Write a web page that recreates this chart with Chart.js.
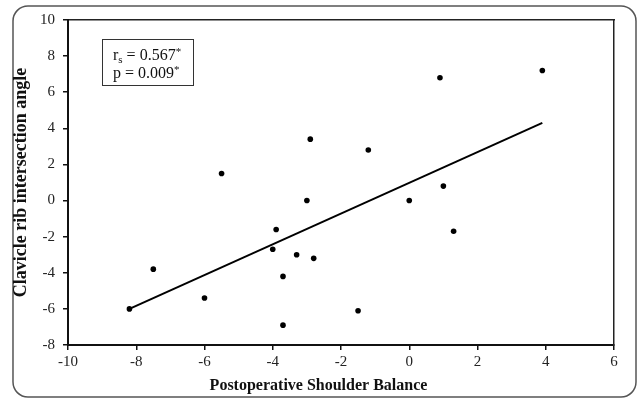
<!DOCTYPE html>
<html>
<head>
<meta charset="utf-8">
<title>Clavicle rib intersection angle vs Postoperative Shoulder Balance</title>
<script src="https://cdn.jsdelivr.net/npm/chart.js@4.4.0/dist/chart.umd.min.js"></script>
<style>
	html, body { margin: 0; padding: 0; background: #fff; }
	#wrap { width: 637px; height: 399px; }
</style>
</head>
<body>
<div id="wrap"><canvas id="scatterChart" width="637" height="399"></canvas></div>
<script>
// Data
const balanceX = [-8.2, -7.5, -6.0, -5.5, -3.9, -4.0, -3.7, -3.7, -3.3, -3.0, -2.9, -2.8, -1.5, -1.2, 0.0, 0.9, 1.0, 1.3, 3.9];
const angleY = [-6.0, -3.8, -5.4, 1.5, -1.6, -2.7, -4.2, -6.9, -3.0, 0.0, 3.4, -3.2, -6.1, 2.8, 0.0, 6.8, 0.8, -1.7, 7.2];

// Regression line end points
const trendX = [-8.2, 3.9];
const trendY = [-6.0, 4.3];

// Axis tick labels
const xTicks = [-10, -8, -6, -4, -2, 0, 2, 4, 6];
const yTicks = [-8, -6, -4, -2, 0, 2, 4, 6, 8, 10];

const serif = "'Liberation Serif', 'Times New Roman', serif";
Chart.defaults.font.family = serif;

// Outer rounded frame and the statistics box
const figurePlugin = {
	id: "figureDecor",
	beforeDraw(chart) {
		const ctx = chart.ctx;
		ctx.save();
		ctx.fillStyle = "#fff";
		ctx.fillRect(0, 0, chart.width, chart.height);
		ctx.strokeStyle = "#555";
		ctx.lineWidth = 1.5;
		ctx.beginPath();
		ctx.roundRect(13, 6, 623, 391, 15);
		ctx.stroke();
		ctx.restore();
	},
	afterDraw(chart) {
		const ctx = chart.ctx;
		ctx.save();
		// stats box
		ctx.strokeStyle = "#333";
		ctx.lineWidth = 1;
		ctx.strokeRect(102.5, 39.5, 91, 46);

		ctx.fillStyle = "#111";
		ctx.textBaseline = "alphabetic";
		const big = "16px " + serif;
		const small = "11px " + serif;
		let x = 113;

		// line 1: r_s = 0.567*
		ctx.font = big;
		ctx.fillText("r", x, 60);
		x += ctx.measureText("r").width;
		ctx.font = small;
		ctx.fillText("s", x, 63);
		x += ctx.measureText("s").width;
		ctx.font = big;
		ctx.fillText(" = 0.567", x, 60);
		x += ctx.measureText(" = 0.567").width;
		ctx.font = small;
		ctx.fillText("*", x, 55);

		// line 2: p = 0.009*
		x = 113;
		ctx.font = big;
		ctx.fillText("p = 0.009", x, 78);
		x += ctx.measureText("p = 0.009").width;
		ctx.font = small;
		ctx.fillText("*", x, 73);
		ctx.restore();
	},
};

const chartEl = document.getElementById("scatterChart");
new Chart(chartEl.getContext("2d"), {
	type: "scatter",
	data: {
		datasets: [
			{
				label: "Patients",
				data: balanceX.map((v, i) => ({ x: v, y: angleY[i] })),
				backgroundColor: "#000",
				borderWidth: 0,
				pointRadius: 2.8,
				xAxisID: "x",
				yAxisID: "y",
			},
			{
				label: "Trend",
				data: trendX.map((v, i) => ({ x: v, y: trendY[i] })),
				showLine: true,
				borderColor: "#000",
				borderWidth: 2,
				pointRadius: 0,
				xAxisID: "x",
				yAxisID: "y",
			},
		],
	},
	options: {
		responsive: false,
		animation: false,
		layout: { padding: 0 },
		scales: {
			x: {
				type: "linear",
				position: "bottom",
				min: -10,
				max: 6,
				afterBuildTicks: (s) => { s.ticks = xTicks.map((v) => ({ value: v })); },
				afterFit: (s) => { s.height = 30.8; },
				ticks: { font: { size: 15 }, color: "#222", padding: 3, maxRotation: 0 },
				grid: { drawOnChartArea: false, drawTicks: true, tickLength: 5, color: "#111", lineWidth: 1.5 },
				border: { color: "#111", width: 2 },
			},
			x2: {
				type: "linear",
				position: "top",
				min: -10,
				max: 6,
				afterFit: (s) => { s.height = 20; },
				ticks: { display: false },
				grid: { drawOnChartArea: false, drawTicks: false },
				border: { color: "#222", width: 1.5 },
			},
			y: {
				type: "linear",
				position: "left",
				min: -8,
				max: 10,
				afterBuildTicks: (s) => { s.ticks = yTicks.map((v) => ({ value: v })); },
				afterFit: (s) => { s.width = 68; },
				ticks: { font: { size: 15 }, color: "#222", padding: 8 },
				grid: { drawOnChartArea: false, drawTicks: true, tickLength: 5, color: "#111", lineWidth: 1.5 },
				border: { color: "#111", width: 2 },
				title: {
					display: true,
					text: "Clavicle rib intersection angle",
					font: { size: 18, weight: "bold" },
					color: "#111",
					padding: { top: 11, bottom: 0 },
				},
			},
			y2: {
				type: "linear",
				position: "right",
				min: -8,
				max: 10,
				afterFit: (s) => { s.width = 23; },
				ticks: { display: false },
				grid: { drawOnChartArea: false, drawTicks: false },
				border: { color: "#222", width: 1.5 },
			},
		},
		plugins: {
			legend: { display: false },
			tooltip: { enabled: false },
			title: {
				display: true,
				position: "bottom",
				text: "Postoperative Shoulder Balance",
				font: { size: 16, weight: "bold" },
				color: "#111",
				padding: { top: 0, bottom: 4 },
			},
		},
	},
	plugins: [figurePlugin],
});
</script>
</body>
</html>
